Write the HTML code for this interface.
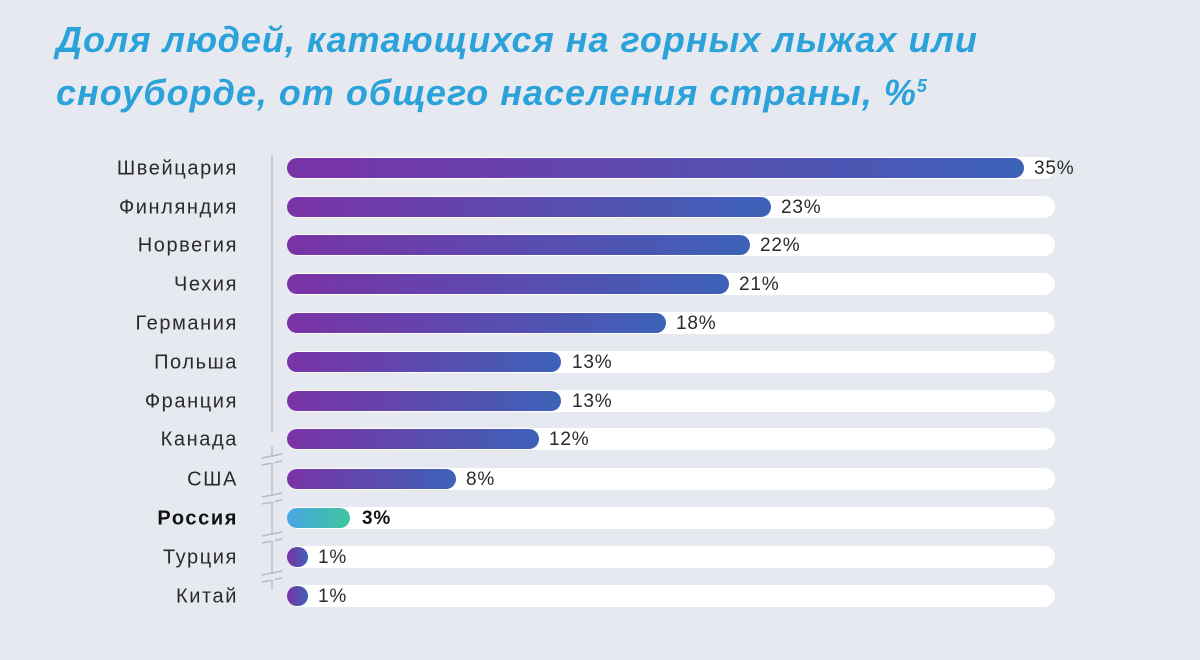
<!DOCTYPE html>
<html><head><meta charset="utf-8"><style>
body{margin:0;width:1200px;height:660px;background:#e6e9f0;position:relative;overflow:hidden;font-family:"Liberation Sans","DejaVu Sans",sans-serif}
.t{position:absolute;left:56px;font-size:36px;letter-spacing:1px;font-weight:bold;font-style:italic;color:#2ba2d9;line-height:40px;white-space:nowrap}
.lab{position:absolute;right:962px;font-size:20px;letter-spacing:1.6px;color:#2a2a2a;transform:translateY(-50%)}
.tr{position:absolute;left:287px;width:768px;height:22px;border-radius:11px;background:#fff;transform:translateY(-50%)}
.b{position:absolute;left:287px;height:20px;border-radius:10px;background:linear-gradient(90deg,#7a33a6,#3d62b8);transform:translateY(-50%)}
.v{position:absolute;font-size:19px;letter-spacing:0.8px;color:#2a2a2a;transform:translateY(-50%)}
.ax{position:absolute;left:271px;top:156px;width:2px;height:276px;background:#c7cad2}
</style></head><body>
<div class="t" style="top:20px">Доля людей, катающихся на горных лыжах или</div>
<div class="t" style="top:66px">сноуборде, от общего населения страны, %<sup style="font-size:18px">5</sup></div>
<div class="ax"></div>
<svg width="1200" height="660" style="position:absolute;left:0;top:0">
<g stroke="#c7cad2" stroke-width="2">
<line x1="272" y1="446" x2="272" y2="590"/>
</g>
<g stroke="#b8bbc4" stroke-width="1.5">
<line x1="262" y1="458" x2="282" y2="454"/><line x1="262" y1="465" x2="282" y2="461"/>
<line x1="262" y1="497" x2="282" y2="493"/><line x1="262" y1="504" x2="282" y2="500"/>
<line x1="262" y1="536" x2="282" y2="532"/><line x1="262" y1="543" x2="282" y2="539"/>
<line x1="262" y1="575" x2="282" y2="571"/><line x1="262" y1="582" x2="282" y2="578"/>
</g>
<g fill="#e6e9f0">
<rect x="270" y="457" width="5" height="6"/><rect x="270" y="496" width="5" height="6"/>
<rect x="270" y="535" width="5" height="6"/><rect x="270" y="574" width="5" height="6"/>
</g>
</svg>

<div class="lab" style="top:169px">Швейцария</div><div class="tr" style="top:168px"></div><div class="b" style="top:168px;width:737px"></div><div class="v" style="top:169px;left:1034px">35%</div>
<div class="lab" style="top:208px">Финляндия</div><div class="tr" style="top:207px"></div><div class="b" style="top:207px;width:484px"></div><div class="v" style="top:208px;left:781px">23%</div>
<div class="lab" style="top:246px">Норвегия</div><div class="tr" style="top:245px"></div><div class="b" style="top:245px;width:463px"></div><div class="v" style="top:246px;left:760px">22%</div>
<div class="lab" style="top:285px">Чехия</div><div class="tr" style="top:284px"></div><div class="b" style="top:284px;width:442px"></div><div class="v" style="top:285px;left:739px">21%</div>
<div class="lab" style="top:324px">Германия</div><div class="tr" style="top:323px"></div><div class="b" style="top:323px;width:379px"></div><div class="v" style="top:324px;left:676px">18%</div>
<div class="lab" style="top:363px">Польша</div><div class="tr" style="top:362px"></div><div class="b" style="top:362px;width:274px"></div><div class="v" style="top:363px;left:572px">13%</div>
<div class="lab" style="top:402px">Франция</div><div class="tr" style="top:401px"></div><div class="b" style="top:401px;width:274px"></div><div class="v" style="top:402px;left:572px">13%</div>
<div class="lab" style="top:440px">Канада</div><div class="tr" style="top:439px"></div><div class="b" style="top:439px;width:252px"></div><div class="v" style="top:440px;left:549px">12%</div>
<div class="lab" style="top:480px">США</div><div class="tr" style="top:479px"></div><div class="b" style="top:479px;width:169px"></div><div class="v" style="top:480px;left:466px">8%</div>
<div class="lab" style="top:519px;font-weight:bold;color:#111">Россия</div><div class="tr" style="top:518px"></div><div class="b" style="top:518px;width:63px;background:linear-gradient(90deg,#48a6e4,#3fc59e)"></div><div class="v" style="top:519px;left:362px;font-weight:bold;color:#111">3%</div>
<div class="lab" style="top:558px">Турция</div><div class="tr" style="top:557px"></div><div class="b" style="top:557px;width:21px"></div><div class="v" style="top:558px;left:318px">1%</div>
<div class="lab" style="top:597px">Китай</div><div class="tr" style="top:596px"></div><div class="b" style="top:596px;width:21px"></div><div class="v" style="top:597px;left:318px">1%</div>
</body></html>
